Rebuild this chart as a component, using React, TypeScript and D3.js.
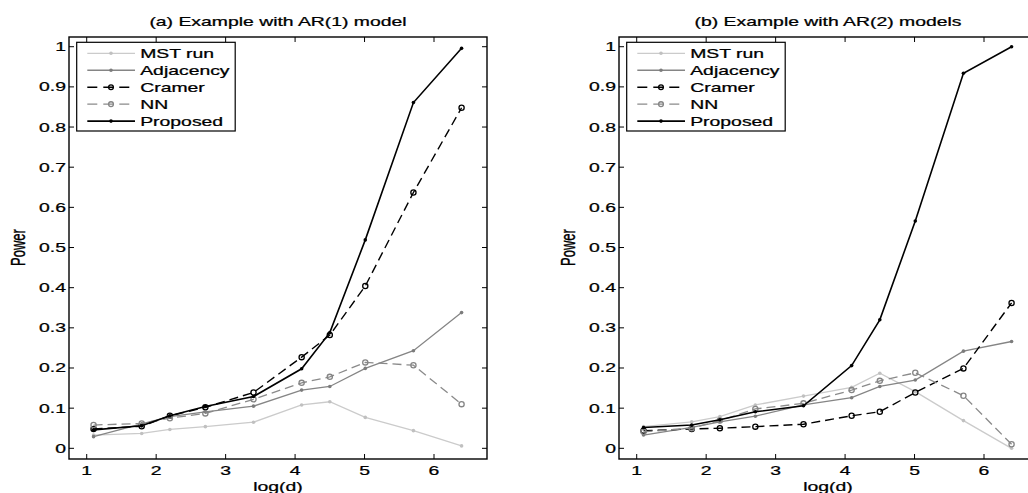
import React from "react";
import * as d3 from "d3";

const logD = [1.0986, 1.7918, 2.1972, 2.7081, 3.4012, 4.0943, 4.4998, 5.0106, 5.7038, 6.3969];

const seriesNames = ["MST run", "Adjacency", "Cramer", "NN", "Proposed"];

// Panel (a): AR(1)
const aMST = [0.033, 0.037, 0.047, 0.054, 0.065, 0.108, 0.116, 0.077, 0.044, 0.006];
const aAdj = [0.029, 0.061, 0.079, 0.091, 0.105, 0.145, 0.154, 0.199, 0.243, 0.338];
const aCramer = [0.048, 0.055, 0.081, 0.102, 0.139, 0.227, 0.282, 0.404, 0.637, 0.848];
const aNN = [0.058, 0.062, 0.075, 0.087, 0.122, 0.163, 0.178, 0.214, 0.207, 0.110];
const aProp = [0.046, 0.056, 0.081, 0.104, 0.129, 0.198, 0.288, 0.519, 0.861, 0.996];

// Panel (b): AR(2)
const bMST = [0.054, 0.066, 0.079, 0.108, 0.130, 0.152, 0.187, 0.141, 0.069, 0.0];
const bAdj = [0.033, 0.052, 0.066, 0.080, 0.108, 0.126, 0.154, 0.170, 0.242, 0.266];
const bCramer = [0.044, 0.048, 0.050, 0.054, 0.060, 0.081, 0.091, 0.139, 0.199, 0.362];
const bNN = [0.041, 0.050, 0.069, 0.098, 0.112, 0.145, 0.168, 0.188, 0.131, 0.010];
const bProp = [0.052, 0.058, 0.071, 0.091, 0.106, 0.206, 0.320, 0.566, 0.934, 1.0];

const xTicks = [1, 2, 3, 4, 5, 6];
const yTicks = [0, 0.1, 0.2, 0.3, 0.4, 0.5, 0.6, 0.7, 0.8, 0.9, 1];

const titles = ["(a) Example with AR(1) model", "(b) Example with AR(2) models"];
const xLabel = "log(d)";
const yLabel = "Power";

type Style = { color: string; dash?: string; marker: "dot" | "circle"; width: number; mcolor: string };
const styles: Style[] = [
  { color: "#cbcbcb", marker: "dot", width: 1.3, mcolor: "#c0c0c0" },
  { color: "#858585", marker: "dot", width: 1.3, mcolor: "#7c7c7c" },
  { color: "#000000", dash: "9,5", marker: "circle", width: 1.4, mcolor: "#000" },
  { color: "#8a8a8a", dash: "9,5", marker: "circle", width: 1.3, mcolor: "#858585" },
  { color: "#000000", marker: "dot", width: 1.6, mcolor: "#000" },
];

const FONT = "'Liberation Sans', Arial, Helvetica, sans-serif";
const SX = 1.55;

function T({ x, y, text, anchor = "start", size = 12.5, rotate = 0 }: any) {
  const tr = rotate
    ? `translate(${x},${y}) rotate(${rotate}) scale(1,${SX})`
    : `translate(${x},${y}) scale(${SX},1)`;
  return (
    <text transform={tr} textAnchor={anchor} fontFamily={FONT} fontSize={size} fill="#000" stroke="#000" strokeWidth={0.25}>
      {text}
    </text>
  );
}

function Panel({ left, title, data }: { left: number; title: string; data: number[][] }) {
  const W = 418;
  const top = 37;
  const bottom = 459;
  const x = d3.scaleLinear().domain([0.745, 6.763]).range([left, left + W]);
  const y = d3.scaleLinear().domain([-0.0266, 1.0242]).range([bottom, top]);
  const line = d3
    .line<number>()
    .x((_, i) => x(logD[i]))
    .y((v) => y(v));
  const tl = 5;
  const lgX = left + 7.7;
  const lgY = 42.3;
  const lgW = 158.5;
  const lgH = 88.7;
  const cx = left + W / 2;
  return (
    <g>
      <T x={cx} y={26} text={title} anchor="middle" />
      {data.map((vals, si) => {
        const s = styles[si];
        return (
          <g key={si}>
            <path d={line(vals) || ""} fill="none" stroke={s.color} strokeWidth={s.width} strokeDasharray={s.dash} />
            {vals.map((v, i) =>
              s.marker === "dot" ? (
                <circle key={i} cx={x(logD[i])} cy={y(v)} r={1.8} fill={s.mcolor} />
              ) : (
                <circle key={i} cx={x(logD[i])} cy={y(v)} r={2.6} fill="none" stroke={s.mcolor} strokeWidth={1.3} />
              )
            )}
          </g>
        );
      })}
      <rect x={left} y={top} width={W} height={bottom - top} fill="none" stroke="#000" strokeWidth={1.4} />
      {xTicks.map((t) => (
        <g key={t}>
          <line x1={x(t)} x2={x(t)} y1={bottom} y2={bottom - tl} stroke="#000" strokeWidth={1} />
          <line x1={x(t)} x2={x(t)} y1={top} y2={top + tl} stroke="#000" strokeWidth={1} />
          <T x={x(t)} y={475} text={String(t)} anchor="middle" />
        </g>
      ))}
      {yTicks.map((t) => (
        <g key={t}>
          <line x1={left} x2={left + tl} y1={y(t)} y2={y(t)} stroke="#000" strokeWidth={1} />
          <line x1={left + W} x2={left + W - tl} y1={y(t)} y2={y(t)} stroke="#000" strokeWidth={1} />
          <T x={left - 3} y={y(t) + 4.5} text={d3.format("")(t)} anchor="end" />
        </g>
      ))}
      <T x={cx} y={491} text={xLabel} anchor="middle" />
      <T x={left - 44} y={y(0.5)} text={yLabel} anchor="middle" rotate={-90} size={13} />
      <rect x={lgX} y={lgY} width={lgW} height={lgH} fill="#fff" stroke="#000" strokeWidth={1.2} />
      {seriesNames.map((n, i) => {
        const s = styles[i];
        const ry = 53.3 + i * 16.95;
        const mx = lgX + 34.3;
        return (
          <g key={n}>
            <line x1={lgX + 10.6} x2={lgX + 58.3} y1={ry} y2={ry} stroke={s.color} strokeWidth={s.width} strokeDasharray={s.dash ? "10,6" : undefined} />
            {s.marker === "dot" ? (
              <circle cx={mx} cy={ry} r={1.8} fill={s.mcolor} />
            ) : (
              <circle cx={mx} cy={ry} r={2.4} fill="none" stroke={s.mcolor} strokeWidth={1.3} />
            )}
            <T x={lgX + 63.5} y={ry + 4.5} text={n} />
          </g>
        );
      })}
    </g>
  );
}

export default function App() {
  return (
    <div style={{ position: "fixed", left: 0, top: 0, width: 1028, height: 493, overflow: "hidden", background: "#fff" }}>
      <svg width={1028} height={493} style={{ display: "block" }}>
        <rect width={1028} height={493} fill="#fff" />
        <Panel left={69} title={titles[0]} data={[aMST, aAdj, aCramer, aNN, aProp]} />
        <Panel left={619} title={titles[1]} data={[bMST, bAdj, bCramer, bNN, bProp]} />
      </svg>
    </div>
  );
}
